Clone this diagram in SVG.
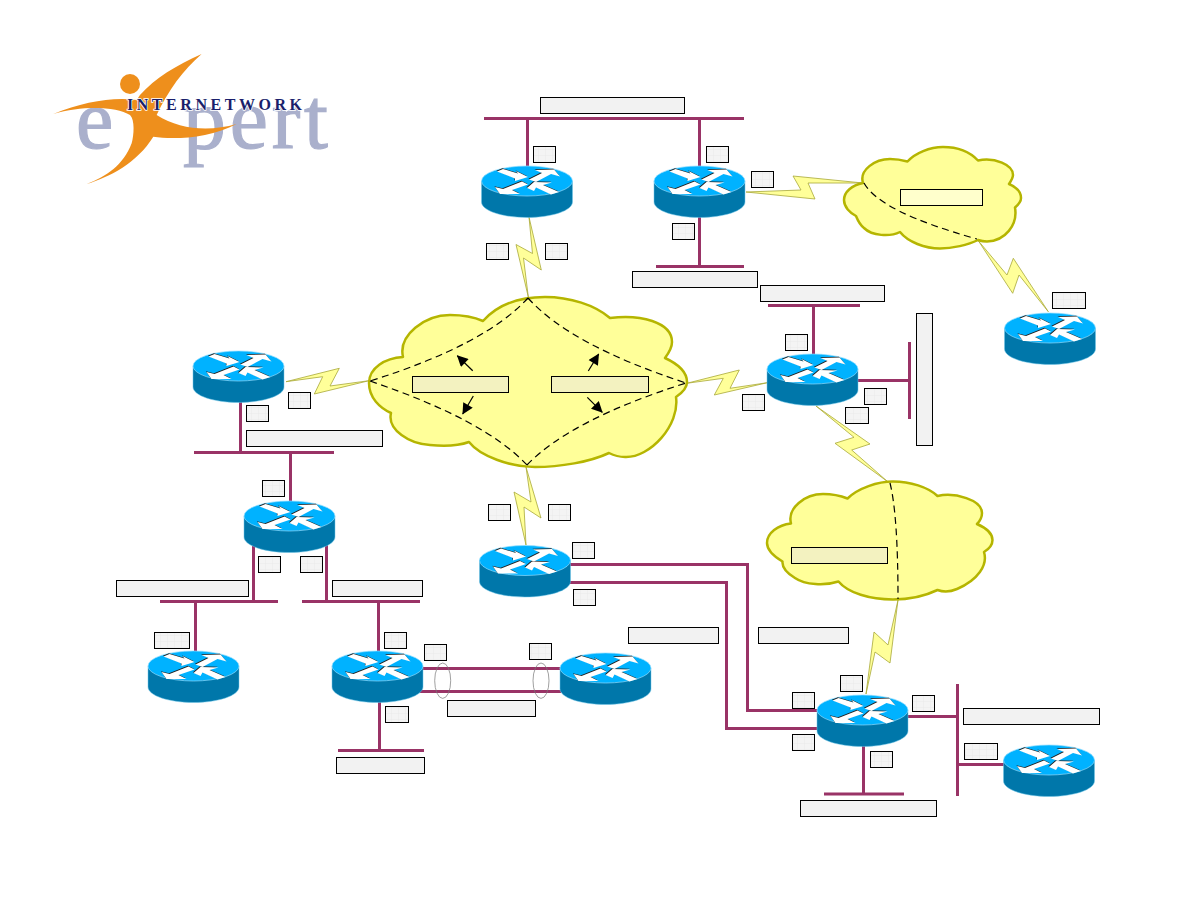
<svg xmlns="http://www.w3.org/2000/svg" xmlns:xlink="http://www.w3.org/1999/xlink" width="1188" height="918" viewBox="0 0 1188 918">
<style>
.link{fill:none;stroke:#993366;stroke-width:3}
.cloud{fill:#ffff99;stroke:#b5b500;stroke-width:2.500;stroke-linejoin:round}
.bolt{fill:#ffff99;stroke:#a8a838;stroke-width:.8;stroke-linejoin:miter}
.path{fill:none;stroke:#000;stroke-width:1.200;stroke-dasharray:7 4.500}
.tag{fill:#f2f2f2;stroke:#000;stroke-width:1}
.tag.s{fill:url(#grid)}
.tag.y{fill:#f3f2c0}
.tag.c{fill:#ffffcc}
.ptr{stroke:#000;stroke-width:1.200;marker-end:url(#head)}
.bundle{fill:none;stroke:#777;stroke-width:.7}
.brand{font-family:"Liberation Serif",serif;fill:#aab0cc;stroke:#aab0cc;stroke-width:1.200}
</style>
<defs>
<pattern id="grid" width="7" height="6" patternUnits="userSpaceOnUse">
<rect width="7" height="6" fill="#f4f4f4"/>
<path d="M7 0V6M0 6H7" fill="none" stroke="#e4e4e4" stroke-width=".6"/>
</pattern>
<marker id="head" viewBox="0 0 10 10" refX="9.500" refY="5" markerWidth="15" markerHeight="11" markerUnits="userSpaceOnUse" orient="auto">
<path d="M0 0L10 5L0 10z" fill="#000"/>
</marker>
<g id="router-arrows">
<polygon points="-30,-9.500 -24,-12 -9,-7.500 -11,-10 1,-4 -12,0 -12,-2.500"/>
<polygon points="2,-1.500 15,-8 8,-11 27,-11.500 33,-4.500 24,-7 9,1"/>
<polygon points="-5,.5 1,3.500 -15,9 -7,13 -27,13 -32,6 -24,8"/>
<polygon points="0,7 7,1 25,1.500 16,4 32,11 24,13.500 9,6.500 7,10"/>
</g>
<symbol id="router" overflow="visible" viewBox="-46 -16 92 54" x="-46" y="-16" width="92" height="54">
<path d="M-45.500 0V21C-45.500 29.500-25 36.500 0 36.500S45.500 29.500 45.500 21V0z" fill="#0077aa" stroke="#6fc6e8" stroke-width=".5"/>
<ellipse cx="0" cy="0" rx="45.500" ry="15" fill="#00b2ff" stroke="#8fdcff" stroke-width=".7"/>
<use href="#router-arrows" fill="#222" transform="translate(-.6 -.7)"/>
<use href="#router-arrows" fill="#fff"/>
</symbol>
</defs>
<rect width="1188" height="918" fill="#fff"/>

<!-- company logo -->
<g id="logo">
<text class="brand" x="76" y="148" font-size="84">e</text>
<text class="brand" x="183" y="148" font-size="86" textLength="145" lengthAdjust="spacing">pert</text>
<circle cx="130" cy="84" r="10" fill="#ee8f1c"/>
<path transform="translate(40 40) scale(.3333)" fill="#ee8f1c" d="M485 42C410 75 345 115 300 165L290 180C220 170 130 185 40 222C130 195 230 200 270 225C285 240 282 285 275 310C250 375 200 410 140 432C210 410 290 370 340 290C400 300 510 295 590 252C510 275 420 270 350 225C385 150 430 90 485 42Z"/>
<text x="127" y="109.500" font-family="'Liberation Serif',serif" font-size="16" font-weight="bold" fill="#1a1f6b" stroke="#fff" stroke-width="1.500" paint-order="stroke" textLength="175" lengthAdjust="spacing">INTERNETWORK</text>
</g>

<!-- wiring, serial bolts, virtual circuits -->
<g id="connectors">
<path class="link" d="M484 118.500H744M527.500 118.500V167M699.500 118.500V167M699.500 216V266.500M656 266.500H744"/>
<path class="link" d="M768 305.500H860M813.500 305.500V355M857 380.500H909.500M909.500 342V419"/>
<path class="link" d="M194 452.500H334M240.500 401V452.500M290.500 452.500V502M253.500 546V601.500M326.500 545V601.500M160 601.500H278M302 601.500H420M195.500 601.500V652M378.500 601.500V652M379.500 701V750.500M338 750.500H424"/>
<path class="link" d="M422 668.500H561M420 691.500H561"/>
<path class="link" d="M569 564.500H747.500V710.500H818M569 582.500H726.500V728.500H818"/>
<path class="link" d="M906 716.500H957.500M957.500 684V796M957.500 764.500H1005M863.500 745V794M824 794H904"/>
<ellipse class="bundle" cx="442.700" cy="680.700" rx="8" ry="17.700"/>
<ellipse class="bundle" cx="541" cy="680.700" rx="8" ry="17.700"/>
<polygon class="bolt" points="529,217 541.300,270 523.500,258 528.300,297 516,244.500 532.500,253.500"/>
<polygon class="bolt" points="746,192 815,199 808,183 863,183 793,176 801,190"/>
<polygon class="bolt" points="978.300,240.700 1012.700,293.300 1019,275 1048.300,311.700 1013.300,258.300 1007,275"/>
<polygon class="bolt" points="286,381.700 339.300,368.300 330,386 369,380.700 314.300,394 322.700,376.700"/>
<polygon class="bolt" points="686.700,383.300 739.300,370 730,388.300 767.300,382.700 714.300,395 723.300,378.300"/>
<polygon class="bolt" points="816,406 870,444 851.700,450 887.700,481.700 835,443.300 854,437.300"/>
<polygon class="bolt" points="526,467 541,518 524,507 526,545 514,492 531,502"/>
<polygon class="bolt" points="898,600 888,645 874,632 866,694 875,652 890,663"/>
</g>

<!-- frame relay clouds -->
<g id="cloud-center">
<path class="cloud" d="M483 321C500 302 525 297 545 297C570 297 595 305 610 318C640 314 672 322 672 342C672 348 668 354 665 358C678 364 687 372 687 382C687 388 682 393 676 397C680 425 650 458 625 457C618 457 613 455 609 453C590 462 560 467 535 467C510 467 480 456 469 442C455 447 440 446 430 445C410 444 387 430 391 413C380 408 369 398 369 383C369 368 385 358 403 357C398 335 425 315 450 315C462 315 474 317 483 321Z"/>
</g>
<g id="cloud-upper">
<path class="cloud" d="M907.500 161.500C915 153 930 147 943 147C958 147 970 152 978 160.500C995 157 1013 165 1013 175C1013 178 1011 181 1009 184C1016 187 1021 192 1021 198C1021 202 1018 205 1015 207.500C1018 225 1005 241 987 241.500C984 241.500 981 241 978 240C968 245 952 248.500 940 248.500C925 248.500 908 242 900 232C890 237 872 236 864 228C860 225 858 221 856 216C850 213 844 207 844 200C844 192 852 185 863 183C859 170 875 159 890 159C896 159 902 160 907.500 161.500Z"/>
</g>
<g id="cloud-lower">
<path class="cloud" d="M847.500 498.500C858 488 878 481.500 893 481.500C910 481.500 928 487 937.500 496C955 492 982 500 982 513C982 517 980 521 977 524C986 528 992.500 534 992.500 540C992.500 545 989 549 984 552C988 565 978 580 957 589C950 592 943 592 937.500 590C925 596 908 599.500 893 599.500C870 599.500 848 593 838.500 581.500C825 586 805 585 795 578C787 573 782 567 782.500 561.500C775 557 767 551 767 543C767 533 778 525 791 523.500C787 508 805 494 823 494C832 494 840 495.500 847.500 498.500Z"/>
</g>
<g id="virtual-circuits">
<path class="path" d="M528 298Q485 345 370 381"/>
<path class="path" d="M528 298Q570 345 686 383"/>
<path class="path" d="M370 381Q485 420 527 465"/>
<path class="path" d="M527 465Q570 420 686 383"/>
<path class="path" d="M864 183Q880 212 977 239"/>
<path class="path" d="M890 483Q898 515 898 599"/>
<line class="ptr" x1="472.700" y1="370.700" x2="457.300" y2="355.700"/>
<line class="ptr" x1="588.300" y1="371" x2="598.700" y2="354"/>
<line class="ptr" x1="473.300" y1="396" x2="462.700" y2="414"/>
<line class="ptr" x1="587.300" y1="397.300" x2="602.300" y2="412.300"/>
</g>

<!-- routers -->
<g id="router-1"><use href="#router" transform="translate(527 181)"/></g>
<g id="router-2"><use href="#router" transform="translate(699.500 181)"/></g>
<g id="router-3"><use href="#router" transform="translate(1050 328)"/></g>
<g id="router-4"><use href="#router" transform="translate(812.500 369)"/></g>
<g id="router-5"><use href="#router" transform="translate(238.500 366)"/></g>
<g id="router-6"><use href="#router" transform="translate(289.500 516)"/></g>
<g id="router-7"><use href="#router" transform="translate(525 560.500)"/></g>
<g id="router-8"><use href="#router" transform="translate(193.500 666)"/></g>
<g id="router-9"><use href="#router" transform="translate(377.500 666)"/></g>
<g id="router-10"><use href="#router" transform="translate(605.500 668)"/></g>
<g id="router-11"><use href="#router" transform="translate(862.500 710)"/></g>
<g id="router-12"><use href="#router" transform="translate(1049 760)"/></g>

<!-- address tags -->
<g id="tags">
<rect class="tag" x="540.500" y="97.500" width="144" height="16"/>
<rect class="tag s" x="533.500" y="146.500" width="22" height="16"/>
<rect class="tag s" x="706.500" y="146.500" width="22" height="16"/>
<rect class="tag s" x="751.500" y="171.500" width="22" height="16"/>
<rect class="tag s" x="672.500" y="223.500" width="22" height="16"/>
<rect class="tag s" x="486.500" y="243.500" width="22" height="16"/>
<rect class="tag s" x="545.500" y="243.500" width="22" height="16"/>
<rect class="tag" x="632.500" y="271.500" width="125" height="16"/>
<rect class="tag" x="760.500" y="285.500" width="124" height="16"/>
<rect class="tag s" x="785.500" y="334.500" width="22" height="16"/>
<rect class="tag" x="916.500" y="313.500" width="16" height="132"/>
<rect class="tag s" x="864.500" y="388.500" width="22" height="16"/>
<rect class="tag s" x="845.500" y="407.500" width="23" height="16"/>
<rect class="tag s" x="742.500" y="394.500" width="22" height="16"/>
<rect class="tag c" x="900.500" y="189.500" width="82" height="16"/>
<rect class="tag s" x="1052.500" y="292.500" width="33" height="16"/>
<rect class="tag y" x="412.500" y="376.500" width="96" height="16"/>
<rect class="tag y" x="551.500" y="376.500" width="97" height="16"/>
<rect class="tag" x="246.500" y="430.500" width="136" height="16"/>
<rect class="tag s" x="288.500" y="392.500" width="22" height="16"/>
<rect class="tag s" x="246.500" y="405.500" width="22" height="16"/>
<rect class="tag s" x="262.500" y="480.500" width="22" height="16"/>
<rect class="tag s" x="258.500" y="556.500" width="22" height="16"/>
<rect class="tag s" x="300.500" y="556.500" width="22" height="16"/>
<rect class="tag" x="116.500" y="580.500" width="132" height="16"/>
<rect class="tag" x="332.500" y="580.500" width="90" height="16"/>
<rect class="tag s" x="154.500" y="632.500" width="35" height="16"/>
<rect class="tag s" x="384.500" y="632.500" width="22" height="16"/>
<rect class="tag s" x="424.500" y="644.500" width="22" height="16"/>
<rect class="tag s" x="385.500" y="706.500" width="23" height="16"/>
<rect class="tag" x="336.500" y="757.500" width="88" height="16"/>
<rect class="tag s" x="529.500" y="643.500" width="22" height="16"/>
<rect class="tag" x="447.500" y="700.500" width="88" height="16"/>
<rect class="tag s" x="572.500" y="542.500" width="22" height="16"/>
<rect class="tag s" x="573.500" y="589.500" width="22" height="16"/>
<rect class="tag" x="628.500" y="627.500" width="90" height="16"/>
<rect class="tag s" x="488.500" y="504.500" width="22" height="16"/>
<rect class="tag s" x="548.500" y="504.500" width="22" height="16"/>
<rect class="tag" x="758.500" y="627.500" width="90" height="16"/>
<rect class="tag s" x="840.500" y="675.500" width="22" height="16"/>
<rect class="tag s" x="792.500" y="692.500" width="22" height="16"/>
<rect class="tag s" x="792.500" y="734.500" width="22" height="16"/>
<rect class="tag s" x="912.500" y="695.500" width="22" height="16"/>
<rect class="tag s" x="870.500" y="751.500" width="22" height="16"/>
<rect class="tag" x="963.500" y="708.500" width="136" height="16"/>
<rect class="tag s" x="964.500" y="743.500" width="33" height="16"/>
<rect class="tag" x="800.500" y="800.500" width="136" height="16"/>
<rect class="tag y" x="791.500" y="547.500" width="96" height="16"/>
</g>
</svg>
